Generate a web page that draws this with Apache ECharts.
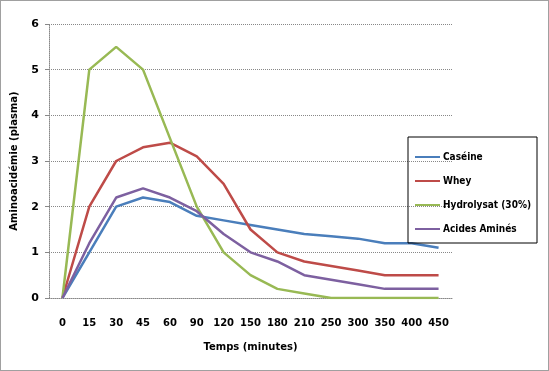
<!DOCTYPE html>
<html><head><meta charset="utf-8">
<script src="https://cdn.jsdelivr.net/npm/echarts@6/dist/echarts.min.js"></script>
<style>html,body{margin:0;padding:0;background:#fff}#c{width:549px;height:371px;box-sizing:border-box;border:1px solid #a0a0a0}</style>
</head><body><div id="c"></div>
<script>
const categories = ['0','15','30','45','60','90','120','150','180','210','250','300','350','400','450'];
const caseine = [0, 1, 2, 2.2, 2.1, 1.8, 1.7, 1.6, 1.5, 1.4, 1.35, 1.3, 1.2, 1.2, 1.1];
const whey = [0, 2, 3, 3.3, 3.4, 3.1, 2.5, 1.5, 1.0, 0.8, 0.7, 0.6, 0.5, 0.5, 0.5];
const hydrolysat = [0, 5, 5.5, 5, 3.5, 2, 1, 0.5, 0.2, 0.1, 0, 0, 0, 0, 0];
const acides = [0, 1.2, 2.2, 2.4, 2.2, 1.9, 1.4, 1.0, 0.8, 0.5, 0.4, 0.3, 0.2, 0.2, 0.2];
const seriesNames = ['Caséine', 'Whey', 'Hydrolysat (30%)', 'Acides Aminés'];
const colors = ['#4A7EBB', '#BE4B48', '#98B954', '#7D60A0'];

const chart = echarts.init(document.getElementById('c'), null, {renderer: 'canvas'});
const font = 'DejaVu Sans';
function line(name, data, color) {
  return {name, type: 'line', data, symbol: 'none', color,
    lineStyle: {width: 2.5, color}, emphasis: {disabled: true}};
}
chart.setOption({
  animation: false,
  backgroundColor: '#fff',
  grid: {left: 48, right: 96, top: 23, bottom: 72, containLabel: false},
  legend: {
    orient: 'vertical', left: 407, top: 136,
    data: seriesNames,
    icon: 'rect', itemWidth: 25, itemHeight: 2, itemGap: 14,
    padding: [15, 6, 9, 7],
    borderColor: '#000', borderWidth: 1,
    textStyle: {fontFamily: 'DejaVu Sans Condensed', fontWeight: 'bold', fontSize: 10, color: '#000', padding: [0,0,0,-2]}
  },
  xAxis: {
    type: 'category', data: categories, boundaryGap: true,
    name: 'Temps (minutes)', nameLocation: 'middle', nameGap: 44,
    nameTextStyle: {fontFamily: font, fontWeight: 'bold', fontSize: 10, color: '#000'},
    axisLine: {show: true, lineStyle: {color: '#888', type: 'dotted'}},
    axisTick: {show: false},
    axisLabel: {fontFamily: font, fontWeight: 'bold', fontSize: 10, color: '#000', margin: 20, interval: 0},
    splitLine: {show: false}
  },
  yAxis: {
    type: 'value', min: 0, max: 6, interval: 1,
    name: 'Aminoacidémie (plasma)', nameLocation: 'middle', nameGap: 30,
    nameTextStyle: {fontFamily: font, fontWeight: 'bold', fontSize: 10, color: '#000'},
    axisLine: {show: true, lineStyle: {color: '#888', type: 'dotted'}},
    axisTick: {show: true, length: 4, lineStyle: {color: '#888'}},
    axisLabel: {fontFamily: font, fontWeight: 'bold', fontSize: 11, color: '#000', margin: 10},
    splitLine: {show: true, lineStyle: {color: '#888', type: 'dotted', width: 1}}
  },
  series: [
    line(seriesNames[0], caseine, colors[0]),
    line(seriesNames[1], whey, colors[1]),
    line(seriesNames[2], hydrolysat, colors[2]),
    line(seriesNames[3], acides, colors[3])
  ]
});
</script></body></html>
